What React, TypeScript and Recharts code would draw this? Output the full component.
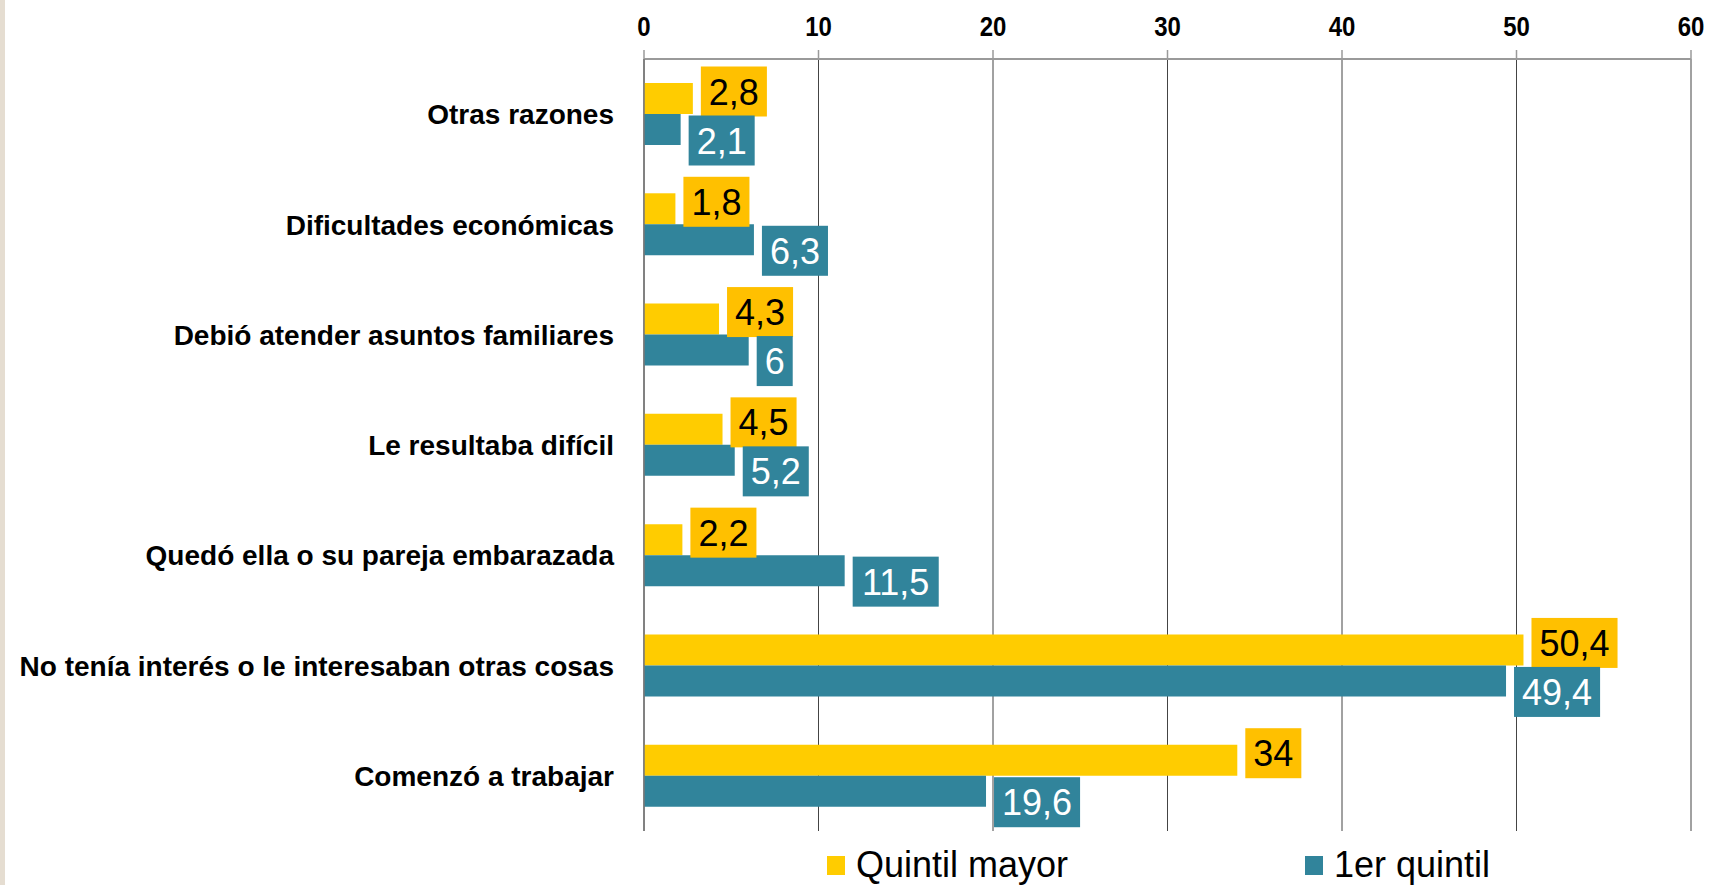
import { BarChart, Bar, XAxis, YAxis, CartesianGrid, Legend, LabelList } from "recharts"

const categories = [
  "Otras razones",
  "Dificultades económicas",
  "Debió atender asuntos familiares",
  "Le resultaba difícil",
  "Quedó ella o su pareja embarazada",
  "No tenía interés o le interesaban otras cosas",
  "Comenzó a trabajar",
]
const quintilMayor = [2.8, 1.8, 4.3, 4.5, 2.2, 50.4, 34]
const primerQuintil = [2.1, 6.3, 6, 5.2, 11.5, 49.4, 19.6]
const xTicks = [0, 10, 20, 30, 40, 50, 60]

const YELLOW = "#FFCC00"
const YELLOW_BOX = "#FFC000"
const TEAL = "#31849B"
const FONT = "'Liberation Sans', Arial, sans-serif"

const data = categories.map((name, i) => ({ name, mayor: quintilMayor[i], primer: primerQuintil[i] }))

const fmt = (v: number) => String(v).replace(".", ",")

// rough Arial text width
const textWidth = (s: string, size: number) =>
  s.split("").reduce((w, c) => w + (c === "," ? 0.278 : 0.556), 0) * size

function makeLabel(boxFill: string, textFill: string, shift: number) {
  return (props: any) => {
    const { x, y, width, height, value } = props
    const label = fmt(value)
    const size = 36
    const w = textWidth(label, size) + 16
    const h = 50
    const bx = x + width + 8
    const cy = y + height / 2 + shift
    return (
      <g>
        <rect x={bx} y={cy - h / 2} width={w} height={h} fill={boxFill} />
        <text
          x={bx + w / 2}
          y={cy + 13}
          textAnchor="middle"
          fontSize={size}
          fontFamily={FONT}
          fill={textFill}
        >
          {label}
        </text>
      </g>
    )
  }
}

function TopTick(props: any) {
  const { x, y, payload } = props
  return (
    <text
      transform={`translate(${x},${y + 2}) scale(1,1.18)`}
      textAnchor="middle"
      fontSize={24}
      fontWeight={700}
      fontFamily={FONT}
      fill="#000"
    >
      {payload.value}
    </text>
  )
}

function CategoryTick(props: any) {
  const { x, y, payload } = props
  return (
    <text
      x={x}
      y={y}
      dy="0.36em"
      textAnchor="end"
      fontSize={28}
      fontWeight={700}
      fontFamily={FONT}
      fill="#000"
    >
      {payload.value}
    </text>
  )
}

function LegendBox() {
  const items = [
    { label: "Quintil mayor", color: YELLOW, left: 827 },
    { label: "1er quintil", color: TEAL, left: 1305 },
  ]
  return (
    <div style={{ position: "relative", width: 1711, height: 40 }}>
      {items.map((it) => (
        <div
          key={it.label}
          style={{
            position: "absolute",
            left: it.left,
            top: 0,
            height: 40,
            display: "flex",
            alignItems: "center",
            fontFamily: FONT,
            fontSize: 36,
            color: "#000",
            whiteSpace: "nowrap",
          }}
        >
          <span style={{ width: 18, height: 19, background: it.color, marginRight: 11, display: "inline-block" }} />
          {it.label}
        </div>
      ))}
    </div>
  )
}

export default function App() {
  return (
    <div style={{ position: "absolute", left: 0, top: 0, width: 1711, height: 885, background: "#fff" }}>
      <div style={{ position: "absolute", left: 0, top: 0, width: 5, height: 885, background: "#E5DDD1" }} />
      <BarChart
        width={1711}
        height={885}
        data={data}
        layout="vertical"
        margin={{ top: 9, right: 20, bottom: 14, left: 444 }}
        barCategoryGap={24}
        barGap={0}
      >
        <CartesianGrid horizontal={false} vertical stroke="#444" strokeWidth={1} />
        <XAxis
          type="number"
          orientation="top"
          domain={[0, 60]}
          ticks={xTicks}
          height={50}
          tickSize={9}
          tickMargin={16}
          axisLine={{ stroke: "#9a9a9a", strokeWidth: 2 }}
          tickLine={{ stroke: "#9a9a9a", strokeWidth: 1.5 }}
          tick={<TopTick />}
        />
        <YAxis
          type="category"
          dataKey="name"
          width={200}
          tickSize={0}
          tickMargin={30}
          tickLine={false}
          axisLine={{ stroke: "#777", strokeWidth: 1.5 }}
          tick={<CategoryTick />}
          interval={0}
        />
        <Legend
          verticalAlign="bottom"
          content={() => <LegendBox />}
          wrapperStyle={{ top: 845, left: 0, width: 1711, height: 40 }}
        />
        <Bar dataKey="mayor" name="Quintil mayor" fill={YELLOW} isAnimationActive={false}>
          <LabelList dataKey="mayor" content={makeLabel(YELLOW_BOX, "#000", -7)} />
        </Bar>
        <Bar dataKey="primer" name="1er quintil" fill={TEAL} isAnimationActive={false}>
          <LabelList dataKey="primer" content={makeLabel(TEAL, "#fff", 11)} />
        </Bar>
      </BarChart>
    </div>
  )
}
